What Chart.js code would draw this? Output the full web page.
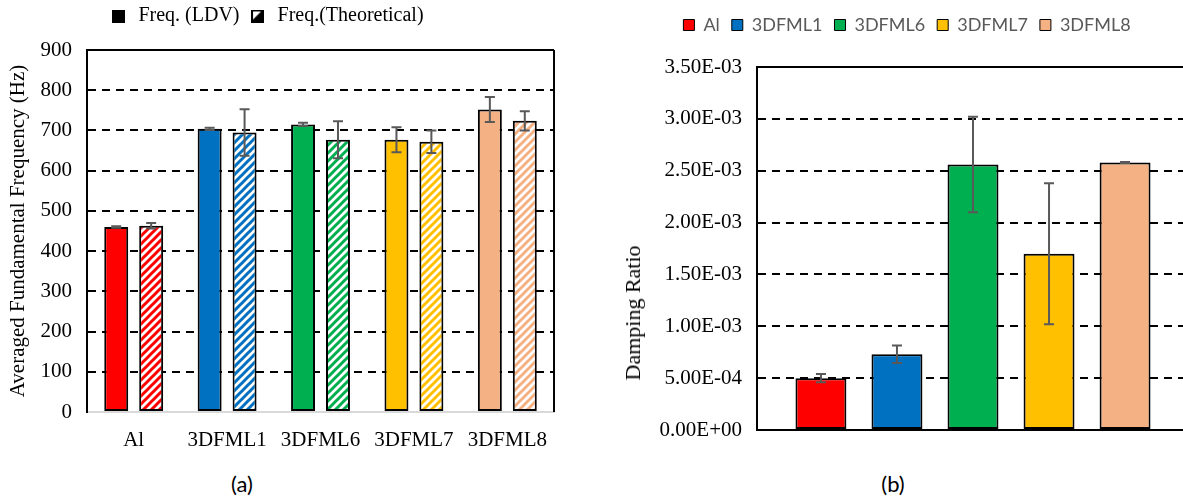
<!DOCTYPE html>
<html>
<head>
<meta charset="utf-8">
<script src="https://cdn.jsdelivr.net/npm/chart.js@4.4.1/dist/chart.umd.min.js"></script>
<style>
html,body{margin:0;padding:0;background:#fff;}
body{width:1183px;height:501px;overflow:hidden;position:relative;}
canvas{position:absolute;top:0;}
#cA{left:-23px;}
#cB{left:625px;}
.lbl{position:absolute;font-family:Lato,sans-serif;font-size:22px;color:#000;transform:translate(-50%,-50%);}
#ytB{position:absolute;left:633px;top:313px;font-family:"Liberation Serif",serif;font-size:22px;color:#000;white-space:nowrap;transform:translate(-50%,-50%) rotate(-90deg);}
</style>
</head>
<body>
<canvas id="cA" width="578" height="460"></canvas>
<canvas id="cB" width="564" height="460"></canvas>
<div id="ytB">Damping Ratio</div>
<div class="lbl" style="left:242px;top:483px">(a)</div>
<div class="lbl" style="left:893px;top:483px">(b)</div>
<script>

// dati
let categorie=["Al","3DFML1","3DFML6","3DFML7","3DFML8"];
let colori=["#FF0000","#0070C0","#00B050","#FFC000","#F4B183"];

let freqLDV=[460,704,715,677,752];
let errLDV=[2,3,4,31,31];
let freqTeo=[463,695,677,672,724];
let errTeo=[7,58,46,28,24];

let smorzamento=[0.00050,0.00073,0.00256,0.00170,0.00258];
let errSmorz=[0.00004,0.000085,0.00046,0.00068,0.000005];

let serif="'Liberation Serif', serif";


// righe oblique per le barre "teoriche"
function righe(col){
let c=document.createElement("canvas");
c.width=8; c.height=8;
let g=c.getContext("2d");
g.fillStyle="#fff";
g.fillRect(0,0,8,8);
g.strokeStyle=col;
g.lineWidth=3;
g.beginPath();
g.moveTo(-2,10); g.lineTo(10,-2);
g.moveTo(-2,2); g.lineTo(2,-2);
g.moveTo(6,10); g.lineTo(10,6);
g.stroke();
return document.getElementById("cA").getContext("2d").createPattern(c,"repeat");
}


// icone legenda (a)
function icona(mezza){
let c=document.createElement("canvas");
c.width=13; c.height=13;
let g=c.getContext("2d");
g.fillStyle="#000";
g.fillRect(0,0,13,13);
if(mezza){
g.fillStyle="#fff";
g.beginPath();
g.moveTo(2,2); g.lineTo(10,2); g.lineTo(2,10);
g.closePath();
g.fill();
}
return c;
}


function formatoE(v){
if(Math.abs(v)<1e-12) return "0.00E+00";
let p=v.toExponential(2).split("e");
let n=parseInt(p[1]);
return p[0]+"E"+(n<0?"-":"+")+String(Math.abs(n)).padStart(2,"0");
}


let barreErrore={
id:"barreErrore",
afterDatasetsDraw(chart){
let ctx=chart.ctx, y=chart.scales.y;
ctx.save();
ctx.strokeStyle="#595959";
ctx.lineWidth=2;
chart.data.datasets.forEach((ds,i)=>{
chart.getDatasetMeta(i).data.forEach((bar,j)=>{
let v=ds.data[j], e=ds.errori[j];
let t=y.getPixelForValue(v+e), b=y.getPixelForValue(v-e);
ctx.beginPath();
ctx.moveTo(bar.x,t); ctx.lineTo(bar.x,b);
ctx.moveTo(bar.x-5,t); ctx.lineTo(bar.x+5,t);
ctx.moveTo(bar.x-5,b); ctx.lineTo(bar.x+5,b);
ctx.stroke();
});
});
ctx.restore();
}
};


let cornice={
id:"cornice",
beforeDatasetsDraw(chart,args,opts){
let a=chart.chartArea, ctx=chart.ctx;
ctx.save();
ctx.strokeStyle="#000";
ctx.lineWidth=2;
ctx.beginPath();
ctx.moveTo(a.left,a.top); ctx.lineTo(a.right,a.top);
if(opts.destra){ ctx.moveTo(a.right,a.top); ctx.lineTo(a.right,a.bottom); }
ctx.stroke();
ctx.restore();
}
};


// spazio sotto la legenda
let spazioLegenda={
id:"spazioLegenda",
beforeInit(chart,args,opts){
let fit=chart.legend.fit;
chart.legend.fit=function(){
fit.bind(chart.legend)();
this.height+=opts.extra;
};
}
};


let griglia=(max)=>(c)=>{
let v=c.tick.value;
return (Math.abs(v)<1e-12||v>=max*0.999)?"rgba(0,0,0,0)":"#000";
};



// (a) frequenze
new Chart(
document.getElementById("cA"),
{
type:"bar",
data:{
labels:categorie,
datasets:[
{label:"Freq. (LDV)",data:freqLDV,errori:errLDV,backgroundColor:colori,borderColor:"#000",borderWidth:2,borderSkipped:false},
{label:"Freq.(Theoretical)",data:freqTeo,errori:errTeo,backgroundColor:colori.map(righe),borderColor:"#000",borderWidth:2,borderSkipped:false}
]
},
options:{
responsive:false,
animation:false,
layout:{padding:{top:-2}},
datasets:{bar:{categoryPercentage:0.748,barPercentage:0.686}},
plugins:{
tooltip:{enabled:false},
legend:{
labels:{
font:{family:serif,size:20},
color:"#000",
usePointStyle:true,
padding:8,
generateLabels:()=>[
{text:"Freq. (LDV)",pointStyle:icona(false),fillStyle:"#000",strokeStyle:"#000",lineWidth:0,datasetIndex:0},
{text:"Freq.(Theoretical)",pointStyle:icona(true),fillStyle:"#000",strokeStyle:"#000",lineWidth:0,datasetIndex:1}
]
}
},
spazioLegenda:{extra:14},
cornice:{destra:true}
},
scales:{
x:{
grid:{display:false},
border:{color:"#d9d9d9",width:2},
ticks:{font:{family:serif,size:21},color:"#000",padding:8},
afterFit:s=>{s.height=48;}
},
y:{
min:0,max:900,
ticks:{stepSize:100,font:{family:serif,size:21},color:"#000",padding:15},
grid:{color:griglia(900),lineWidth:2,drawTicks:false},
border:{color:"#000",width:2,dash:[8,6]},
title:{display:true,text:"Averaged Fundamental Frequency (Hz)",font:{family:serif,size:21},color:"#000",padding:{top:29,bottom:0}},
afterFit:s=>{s.width=110;}
}
}
},
plugins:[cornice,barreErrore,spazioLegenda]
}
);



// (b) smorzamento
new Chart(
document.getElementById("cB"),
{
type:"bar",
data:{
labels:[""],
datasets:categorie.map((c,i)=>({
label:c,
data:[smorzamento[i]],
errori:[errSmorz[i]],
backgroundColor:colori[i],
borderColor:"#000",
borderWidth:2,
borderSkipped:false
}))
},
options:{
responsive:false,
animation:false,
layout:{padding:{top:4}},
datasets:{bar:{categoryPercentage:0.88,barPercentage:0.67}},
plugins:{
tooltip:{enabled:false},
legend:{
labels:{
font:{family:"Lato",size:18},color:"#595959",boxWidth:11,boxHeight:11,padding:12,
generateLabels:(chart)=>Chart.defaults.plugins.legend.labels.generateLabels(chart).map(l=>{l.lineWidth=1;return l;})
}
},
spazioLegenda:{extra:23},
cornice:{destra:false}
},
scales:{
x:{
grid:{display:false},
ticks:{display:false},
border:{color:"#000",width:2},
afterFit:s=>{s.height=30;}
},
y:{
min:0,max:0.0035,
ticks:{stepSize:0.0005,callback:formatoE,font:{family:serif,size:21},color:"#000",padding:15},
grid:{color:griglia(0.0035),lineWidth:2,drawTicks:false},
border:{color:"#000",width:2,dash:[8,6]},
afterFit:s=>{s.width=132;}
}
}
},
plugins:[cornice,barreErrore,spazioLegenda]
}
);

</script>
</body>
</html>
